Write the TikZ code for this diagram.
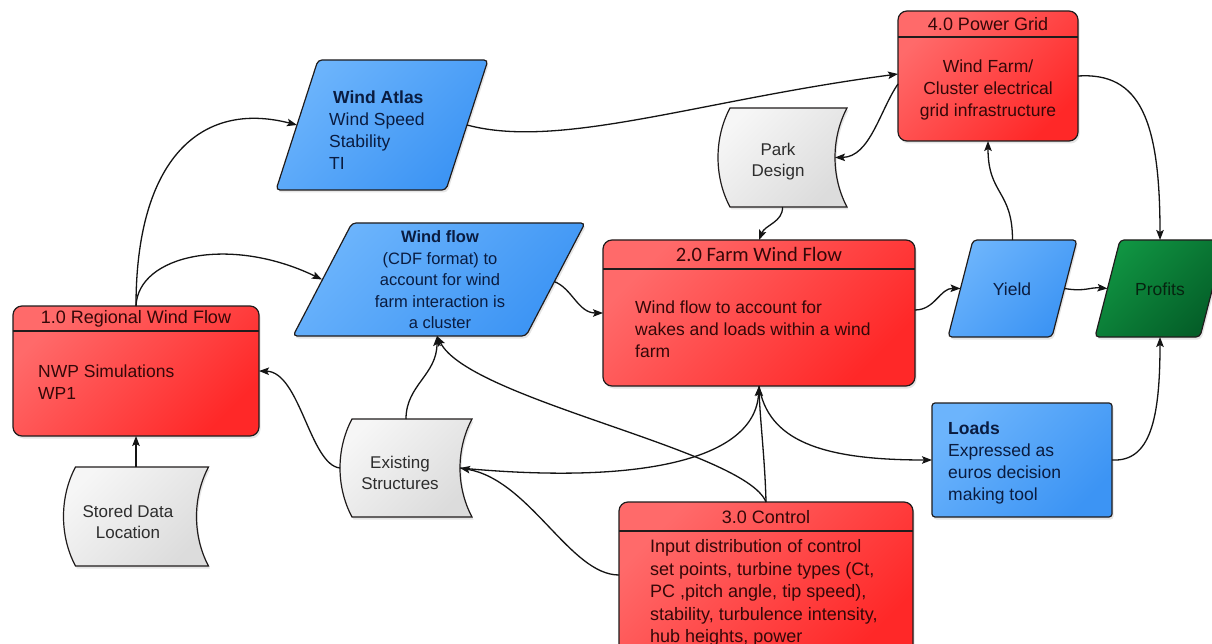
\documentclass[tikz,border=0pt]{standalone}
\usepackage{fontspec}
\setmainfont{Liberation Sans}
\newfontfamily\carlito{Carlito}
\usetikzlibrary{calc,arrows.meta,shadows}

\definecolor{redA}{RGB}{255,106,106}
\definecolor{redB}{RGB}{255,40,40}
\definecolor{blueA}{RGB}{108,180,252}
\definecolor{blueB}{RGB}{60,148,244}
\definecolor{greenA}{RGB}{16,148,66}
\definecolor{greenB}{RGB}{4,94,40}
\definecolor{grayA}{RGB}{246,246,246}
\definecolor{grayB}{RGB}{220,220,220}
\definecolor{redtext}{RGB}{52,8,8}
\definecolor{bluetext}{RGB}{10,28,64}
\definecolor{graytext}{RGB}{45,45,45}
\definecolor{greentext}{RGB}{6,36,16}
\definecolor{edge}{RGB}{32,28,28}

\newcommand\hdrfont{\fontsize{18}{22}\selectfont}
\newcommand\bodyfont{\fontsize{17.5}{22}\selectfont}
\newcommand\smallbody{\fontsize{16.5}{21.5}\selectfont}
\newcommand\grayfont{\fontsize{17}{21}\selectfont}

% parallelogram drawn over a geometry node: #1 node, #2 slant, #3 style
\newcommand\parashape[3]{%
  \path[#3] ($(#1.north west)+(#2,0)$) -- (#1.north east)
    -- ($(#1.south east)+(-#2,0)$) -- (#1.south west) -- cycle;}
% stored-data outline: bulging left side, hollow right side
\newcommand\storedshape[1]{%
  \path[graybox] ($(#1.north west)+(12,0)$) -- (#1.north east)
    .. controls ($(#1.north east)+(-16,30)$) and ($(#1.south east)+(-16,-30)$) .. (#1.south east)
    -- ($(#1.south west)+(12,0)$)
    .. controls ($(#1.south west)+(-4,-30)$) and ($(#1.north west)+(-4,30)$) .. cycle;}
% divider under a box title: #1 node, #2 title band height
\newcommand\titlerule[2]{%
  \draw[draw=edge, line width=1.2pt] ($(#1.north west)+(0,#2)$) -- ($(#1.north east)+(0,#2)$);}

\tikzset{
  base/.style={draw=edge, line width=1.2pt,
    drop shadow={shadow xshift=1.5pt, shadow yshift=-2.5pt, opacity=0.2}},
  redbox/.style={base, top color=redA, bottom color=redB, shading angle=45,
    rounded corners=9pt, inner sep=0pt, outer sep=0pt},
  bluebox/.style={base, top color=blueA, bottom color=blueB, shading angle=45,
    rounded corners=4pt, inner sep=0pt, outer sep=0pt},
  greenbox/.style={base, top color=greenA, bottom color=greenB, shading angle=45,
    rounded corners=4pt},
  graybox/.style={base, top color=grayA, bottom color=grayB, shading angle=45},
  frame/.style={inner sep=0pt, outer sep=0pt},
  redtxt/.style={inner sep=0pt, text=redtext, font=\bodyfont},
  bluetxt/.style={inner sep=0pt, text=bluetext, font=\bodyfont},
  graytxt/.style={inner sep=0pt, text=graytext, font=\grayfont, align=center},
  conn/.style={line width=1.3pt, draw=black!92,
    -{Stealth[length=10pt, width=7.5pt, inset=2pt]}},
}

\begin{document}
\begin{tikzpicture}[x=1pt, y=-1pt]
\useasboundingbox (0,0) rectangle (1212,644);
\fill[white] (0,0) rectangle (1212,644);
\clip (0,0) rectangle (1212,644);

% ---- process boxes ----
\node[redbox, minimum width=246pt, minimum height=130pt] (r1) at (136,371) {};
\titlerule{r1}{25}
\node[redtxt, font=\hdrfont] (r1t) at ($(r1.north)+(0,12.5)$) {1.0 Regional Wind Flow};
\node[redtxt, anchor=west, align=left] (r1b) at (38,382) {NWP Simulations\\WP1};

\node[redbox, minimum width=312pt, minimum height=146pt] (farm) at (759,313) {};
\titlerule{farm}{29}
\node[redtxt, font={\carlito\fontsize{20.5}{24}\selectfont}] (farmt) at ($(farm.north)+(0,14.5)$) {2.0 Farm Wind Flow};
\node[redtxt, anchor=west, align=left] (farmb) at (635,329)
  {Wind flow to account for\\wakes and loads within a wind\\farm};

\node[redbox, minimum width=180pt, minimum height=130pt] (grid) at (988,76) {};
\titlerule{grid}{26}
\node[redtxt, font=\hdrfont] (gridt) at ($(grid.north)+(0,13)$) {4.0 Power Grid};
\node[redtxt, align=center] (gridb) at (988,90)
  {Wind Farm/\\Cluster electrical\\grid infrastructure};

\node[redbox, minimum width=294pt, minimum height=158pt] (ctrl) at (766,581) {};
\titlerule{ctrl}{29}
\node[redtxt, font=\hdrfont] (ctrlt) at ($(ctrl.north)+(0,15)$) {3.0 Control};
\node[redtxt, anchor=west, align=left, font={\fontsize{18}{22.5}\selectfont}] (ctrlb) at (650,593)
  {Input distribution of control\\set points, turbine types (Ct,\\PC ,pitch angle, tip speed),\\stability, turbulence intensity,\\hub heights, power};

\node[bluebox, rounded corners=3pt, minimum width=180pt, minimum height=114pt] (loads) at (1022,460) {};
\node[bluetxt, anchor=west, align=left] (loadst) at (948,463)
  {\textbf{Loads}\\Expressed as\\euros decision\\making tool};

% ---- data parallelograms ----
\node[frame, minimum width=212pt, minimum height=130pt] (atlas) at (382,125) {};
\parashape{atlas}{42}{bluebox}
\node[bluetxt, anchor=west, align=left] (atlast) at (329,130)
  {\hspace*{4pt}\textbf{Wind Atlas}\\Wind Speed\\Stability\\TI};

\node[frame, minimum width=292pt, minimum height=113pt] (wflow) at (439,279.5) {};
\parashape{wflow}{59}{bluebox}
\node[bluetxt, align=center, font=\smallbody] (wflowt) at (440,280)
  {\textbf{Wind flow}\\(CDF format) to\\account for wind\\farm interaction is\\a cluster};

\node[frame, minimum width=129pt, minimum height=97pt] (yield) at (1012.5,288.5) {};
\parashape{yield}{25}{bluebox}
\node[bluetxt] (yieldt) at (1012,289) {Yield};

\node[frame, minimum width=130pt, minimum height=97pt] (profit) at (1160,288.5) {};
\parashape{profit}{25}{greenbox}
\node[inner sep=0pt, text=greentext, font=\bodyfont] (profitt) at (1160,289) {Profits};

% ---- stored data ----
\node[frame, minimum width=145pt, minimum height=99pt] (sd) at (136,516.5) {};
\storedshape{sd}
\node[graytxt] (sdt) at (128,522) {Stored Data\\Location};

\node[frame, minimum width=132pt, minimum height=98pt] (exist) at (406,468) {};
\storedshape{exist}
\node[graytxt] (existt) at (400,473) {Existing\\Structures};

\node[frame, minimum width=129pt, minimum height=99pt] (park) at (782.5,157.5) {};
\storedshape{park}
\node[graytxt] (parkt) at (778,162) {Park\\Design};

% ---- connectors ----
\draw[conn] (r1.north) .. controls (136,160) and (200,100) .. ($(atlas.west)+(21,0)$);
\draw[conn] (r1.north) .. controls (138,255) and (230,235) .. ($(wflow.west)+(29,0)$);
\draw[conn] (exist.west) .. controls (310,465) and (300,372) .. (r1.east);
\draw[conn] (sd.north) -- (r1.south);
\draw[conn] (exist.north) .. controls (406,385) and (437,375) .. ($(wflow.south)+(-2,0)$);
\draw[conn] ($(wflow.east)+(-31,2)$) .. controls (572,288) and (578,313) .. (farm.west);
\draw[conn] ($(atlas.east)+(-21,0)$) .. controls (560,150) and (700,100) .. ($(grid.west)+(0,-2)$);
\draw[conn] ($(grid.west)+(0,8)$) .. controls (880,110) and (870,157) .. ($(park.east)+(-12,0)$);
\draw[conn] (park.south) .. controls (783,222) and (765,225) .. (farm.north);
\draw[conn] ($(farm.east)+(0,-3)$) .. controls (935,310) and (940,288) .. ($(yield.west)+(12.5,0)$);
\draw[conn] (yield.north) .. controls (1012.5,190) and (988,195) .. (grid.south);
\draw[conn] ($(yield.east)+(-12.5,0)$) .. controls (1085,292) and (1090,287) .. ($(profit.west)+(12.5,0)$);
\draw[conn] (grid.east) .. controls (1140,72) and (1160,120) .. (profit.north);
\draw[conn] (loads.east) .. controls (1150,462) and (1160,420) .. (profit.south);
\draw[conn] ($(ctrl.west)+(0,-6)$) .. controls (570,575) and (530,480) .. ($(exist.east)+(-12,0)$);
\draw[conn] ($(exist.east)+(-12,0)$) .. controls (640,485) and (755,460) .. (farm.south);
\draw[conn] (ctrl.north) .. controls (765,460) and (760,420) .. (farm.south);
\draw[conn] (ctrl.north) .. controls (745,450) and (470,400) .. ($(wflow.south)+(-2,0)$);
\draw[conn] (farm.south) .. controls (768,440) and (820,460) .. (loads.west);
\end{tikzpicture}
\end{document}
